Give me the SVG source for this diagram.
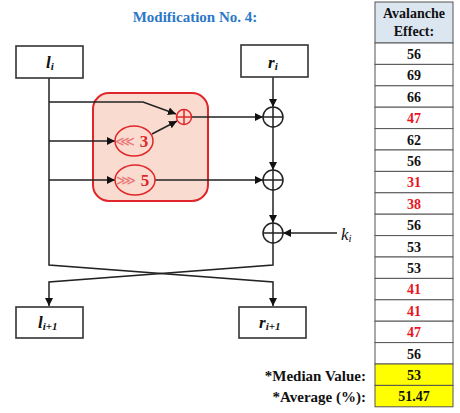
<svg xmlns="http://www.w3.org/2000/svg" width="460" height="413" viewBox="0 0 460 413">
<defs>
<marker id="ah" viewBox="0 0 10 10" refX="10" refY="5" markerWidth="8" markerHeight="8" markerUnits="userSpaceOnUse" orient="auto"><path d="M0,0 L10,5 L0,10 z" fill="#111"/></marker>
</defs>
<style>
text{font-family:"Liberation Serif","Times New Roman",serif;font-weight:bold}
.box{fill:#fff;stroke:#333;stroke-width:1.6}
.ln{fill:none;stroke:#222;stroke-width:1.5}
.arr{fill:none;stroke:#222;stroke-width:1.5;marker-end:url(#ah)}
.xor{fill:none;stroke:#222;stroke-width:1.5}
.var{font-style:italic;font-size:17px;fill:#111}
.sub{font-style:italic;font-size:11px;fill:#111}
.cell{fill:#fff;stroke:#555;stroke-width:1}
.val{font-size:14px;text-anchor:middle;fill:#111}
.red{fill:#e8141e}
.lbl{font-size:15px;text-anchor:end;fill:#111}
.rot{font-family:"DejaVu Sans",sans-serif;font-weight:normal;font-size:14px;fill:#e87878;text-anchor:middle}
</style>
<text x="195" y="22" text-anchor="middle" font-size="15" fill="#2a78c6">Modification No. 4:</text>

<g id="red-box">
<rect x="93" y="93" width="115" height="108" rx="16" fill="#f9dccf" stroke="#e0262b" stroke-width="2"/>
</g>

<g id="connectors">
<path class="ln" d="M49,78 V265 L273,282 V306" marker-end="url(#ah)"/>
<path class="ln" d="M273,243 V265 L49,282 V306" marker-end="url(#ah)"/>
<path class="arr" d="M49,102 H143 L176,114"/>
<path class="arr" d="M49,141 H115"/>
<path class="arr" d="M49,180 H115"/>
<path class="arr" d="M152,134 L177,121"/>
<path class="arr" d="M191.5,117 H263"/>
<path class="arr" d="M155,180 H263"/>
<path class="arr" d="M273,77 V107"/>
<path class="arr" d="M273,127 V170"/>
<path class="arr" d="M273,190 V223"/>
<path class="arr" d="M337,233 H283"/>
</g>

<g id="li">
<rect class="box" x="16" y="46" width="67" height="32"/>
<text x="46" y="68"><tspan class="var">l</tspan><tspan class="sub" dy="2">i</tspan></text>
</g>
<g id="ri">
<rect class="box" x="241" y="45" width="67" height="32"/>
<text x="268" y="68"><tspan class="var">r</tspan><tspan class="sub" dy="2">i</tspan></text>
</g>
<g id="li1">
<rect class="box" x="16" y="307" width="67" height="31"/>
<text x="38" y="328"><tspan class="var">l</tspan><tspan class="sub" dy="2">i+1</tspan></text>
</g>
<g id="ri1">
<rect class="box" x="239" y="307" width="67" height="31"/>
<text x="259" y="328"><tspan class="var">r</tspan><tspan class="sub" dy="2">i+1</tspan></text>
</g>
<g id="xor1">
<circle cx="184" cy="117" r="7.5" fill="none" stroke="#e0262b" stroke-width="1.5"/>
<path d="M176.5,117 H191.5 M184,109.5 V124.5" stroke="#e0262b" stroke-width="1.5"/>
</g>
<g id="rot3">
<ellipse cx="134" cy="141" rx="19" ry="15" fill="none" stroke="#e0262b" stroke-width="1.5"/>
<text class="rot" x="125" y="146">⋘</text>
<text x="144" y="147" text-anchor="middle" font-size="17" fill="#e0262b">3</text>
</g>
<g id="rot5">
<ellipse cx="135" cy="180" rx="20" ry="15" fill="none" stroke="#e0262b" stroke-width="1.5"/>
<text class="rot" x="126" y="185">⋙</text>
<text x="145" y="186" text-anchor="middle" font-size="17" fill="#e0262b">5</text>
</g>
<g id="xor2">
<circle class="xor" cx="273" cy="117" r="10"/>
<path class="xor" d="M263,117 H283 M273,107 V127"/>
</g>
<g id="xor3">
<circle class="xor" cx="273" cy="180" r="10"/>
<path class="xor" d="M263,180 H283 M273,170 V190"/>
</g>
<g id="xor4">
<circle class="xor" cx="273" cy="233" r="10"/>
<path class="xor" d="M263,233 H283 M273,223 V243"/>
</g>
<g id="ki">
<text x="341" y="240"><tspan class="var" style="font-weight:normal">k</tspan><tspan class="sub" style="font-weight:normal" dy="2">i</tspan></text>
</g>

<g id="table">
<rect x="375" y="2" width="78" height="41" fill="#dce6f1" stroke="#555" stroke-width="1"/>
<text x="414" y="18" text-anchor="middle" font-size="14" fill="#111">Avalanche</text>
<text x="414" y="36" text-anchor="middle" font-size="14" fill="#111">Effect:</text>
<rect class="cell" x="375" y="43" width="78" height="21.4"/>
<rect class="cell" x="375" y="64.4" width="78" height="21.4"/>
<rect class="cell" x="375" y="85.8" width="78" height="21.4"/>
<rect class="cell" x="375" y="107.2" width="78" height="21.4"/>
<rect class="cell" x="375" y="128.6" width="78" height="21.4"/>
<rect class="cell" x="375" y="150" width="78" height="21.4"/>
<rect class="cell" x="375" y="171.4" width="78" height="21.4"/>
<rect class="cell" x="375" y="192.8" width="78" height="21.4"/>
<rect class="cell" x="375" y="214.2" width="78" height="21.4"/>
<rect class="cell" x="375" y="235.6" width="78" height="21.4"/>
<rect class="cell" x="375" y="257" width="78" height="21.4"/>
<rect class="cell" x="375" y="278.4" width="78" height="21.4"/>
<rect class="cell" x="375" y="299.8" width="78" height="21.4"/>
<rect class="cell" x="375" y="321.2" width="78" height="21.4"/>
<rect class="cell" x="375" y="342.6" width="78" height="21.4"/>
<rect x="375" y="364" width="78" height="21.4" fill="#ffff00" stroke="#555" stroke-width="1"/>
<rect x="375" y="385.4" width="78" height="21.4" fill="#ffff00" stroke="#555" stroke-width="1"/>
<text class="val" x="414" y="59">56</text>
<text class="val" x="414" y="80.4">69</text>
<text class="val" x="414" y="101.8">66</text>
<text class="val red" x="414" y="123.2">47</text>
<text class="val" x="414" y="144.6">62</text>
<text class="val" x="414" y="166">56</text>
<text class="val red" x="414" y="187.4">31</text>
<text class="val red" x="414" y="208.8">38</text>
<text class="val" x="414" y="230.2">56</text>
<text class="val" x="414" y="251.6">53</text>
<text class="val" x="414" y="273">53</text>
<text class="val red" x="414" y="294.4">41</text>
<text class="val red" x="414" y="315.8">41</text>
<text class="val red" x="414" y="337.2">47</text>
<text class="val" x="414" y="358.6">56</text>
<text class="val" x="414" y="380">53</text>
<text class="val" x="414" y="401.4">51.47</text>
<text class="lbl" x="366" y="381">*Median Value:</text>
<text class="lbl" x="366" y="402">*Average (%):</text>
</g>
</svg>
